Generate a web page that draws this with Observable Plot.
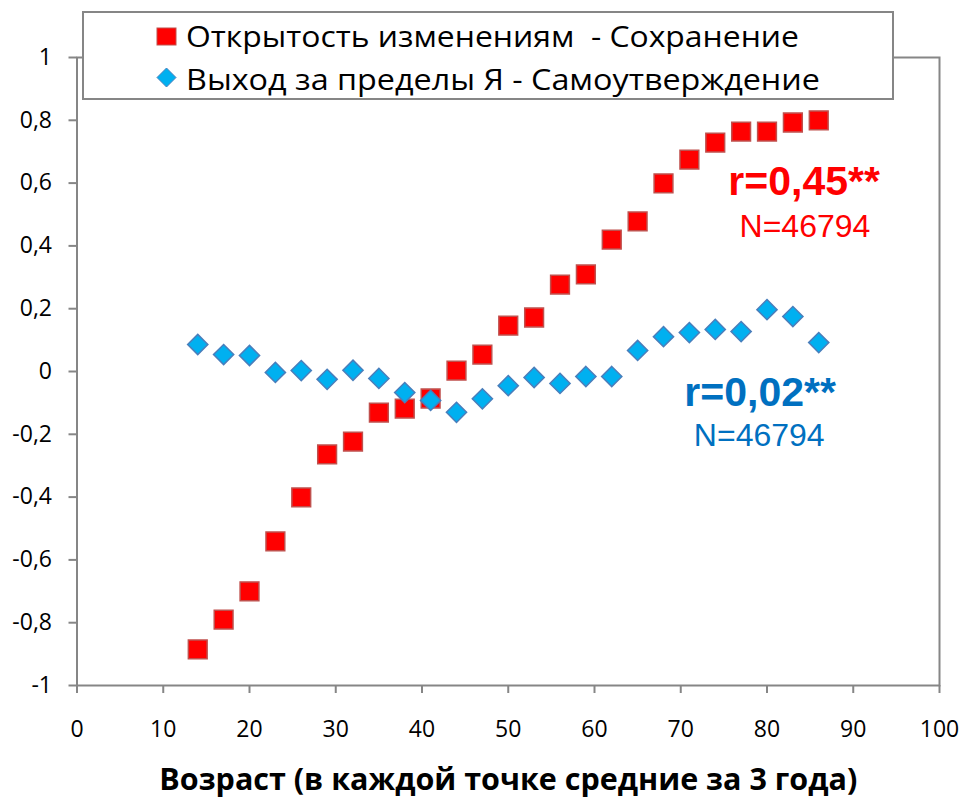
<!DOCTYPE html>
<html><head><meta charset="utf-8">
<script src="https://cdn.jsdelivr.net/npm/d3@7"></script>
<script src="https://cdn.jsdelivr.net/npm/@observablehq/plot@0.6"></script>
<style>
body{margin:0;background:#fff;}
#wrap{position:relative;width:963px;height:798px;}
#legend{position:absolute;left:82px;top:11px;}
#legend text{font-family:"Open Sans";font-size:28.5px;fill:#000;white-space:pre;}
</style>
</head><body>
<div id="wrap"></div>
<script>
// Data (age: mean over 3-year windows)
const ages = [14,17,20,23,26,29,32,35,38,41,44,47,50,53,56,59,62,65,68,71,74,77,80,83,86];
const openness = [-0.885,-0.79,-0.70,-0.541,-0.401,-0.264,-0.223,-0.131,-0.118,-0.086,0.003,0.054,0.146,0.172,0.277,0.309,0.42,0.478,0.599,0.675,0.729,0.764,0.764,0.793,0.80];
const transcend = [0.086,0.054,0.051,-0.003,0.003,-0.025,0.004,-0.022,-0.067,-0.092,-0.13,-0.087,-0.045,-0.019,-0.038,-0.016,-0.016,0.067,0.111,0.124,0.134,0.127,0.197,0.175,0.092];
const seriesNames = ["Открытость изменениям  - Сохранение","Выход за пределы Я - Самоутверждение"];
const xTicks = [0,10,20,30,40,50,60,70,80,90,100];
const yTicks = [-1,-0.8,-0.6,-0.4,-0.2,0,0.2,0.4,0.6,0.8,1];
const yTickLabels = ["-1","-0,8","-0,6","-0,4","-0,2","0","0,2","0,4","0,6","0,8","1"];
const annoText = ["r=0,45**","N=46794","r=0,02**","N=46794"];
const annoX = [84.3,84.4,79.2,79.1];
const annoY = [0.561,0.427,-0.111,-0.236];
const annoBold = [true,false,true,false];
const annoColor = ["#FF0000","#FF0000","#0070C0","#0070C0"];
const xTitle = "Возраст (в каждой точке средние за 3 года)";

const redData = ages.map((a,i)=>({age:a, v:openness[i]}));
const blueData = ages.map((a,i)=>({age:a, v:transcend[i]}));
const annos = annoText.map((t,i)=>({t, x:annoX[i], y:annoY[i], bold:annoBold[i], c:annoColor[i]}));

const chart = Plot.plot({
  width:963, height:798,
  marginLeft:76.5, marginRight:24, marginTop:57, marginBottom:113,
  x:{domain:[0,100]},
  y:{domain:[-1,1]},
  style:{fontFamily:"Open Sans", background:"white", overflow:"visible"},
  marks:[
    Plot.frame({stroke:"#868686", strokeWidth:2}),
    Plot.axisX({ticks:xTicks, tickSize:8, tickPadding:27, stroke:"#868686", strokeWidth:2, fill:"#000", fontSize:23, label:null, tickFormat:d=>String(d)}),
    Plot.axisY({ticks:yTicks, tickSize:8, tickPadding:17, stroke:"#868686", strokeWidth:2, fill:"#000", fontSize:23, label:null, tickFormat:(d,i)=>yTickLabels[i]}),
    Plot.dot(redData, {x:"age", y:"v", symbol:"square", r:10.6, fill:"#FF0000", stroke:"#C0504D", strokeWidth:1.5}),
    Plot.dot(blueData, {x:"age", y:"v", symbol:"diamond2", r:9.1, fill:"#00B0F0", stroke:"#4A7EBB", strokeWidth:1.5}),
    Plot.text(annos.filter(d=>d.bold), {x:"x", y:"y", text:"t", fill:"c", fontSize:41, fontWeight:"bold", fontFamily:"Liberation Sans", lineAnchor:"bottom", textAnchor:"middle"}),
    Plot.text(annos.filter(d=>!d.bold), {x:"x", y:"y", text:"t", fill:"c", fontSize:32, fontFamily:"Liberation Sans", lineAnchor:"bottom", textAnchor:"middle"}),
    Plot.text([xTitle], {frameAnchor:"bottom", dy:104, text:d=>d, fontSize:30.5, fontWeight:"bold", fill:"#000", lineAnchor:"bottom"})
  ]
});
document.getElementById("wrap").appendChild(chart);

// Legend box overlaying the top of the plot frame
const lg = d3.select("#wrap").append("svg").attr("id","legend").attr("width",814).attr("height",91);
lg.append("rect").attr("x",1).attr("y",1).attr("width",810).attr("height",87).attr("fill","#fff").attr("stroke","#868686").attr("stroke-width",2);
lg.append("rect").attr("x",75).attr("y",17).attr("width",19).attr("height",17).attr("fill","#FF0000").attr("stroke","#C0504D").attr("stroke-width",1);
lg.append("path").attr("d","M84.5,57 L94,66.5 L84.5,76 L75,66.5 Z").attr("fill","#00B0F0").attr("stroke","#4A7EBB").attr("stroke-width",1);
lg.append("text").attr("x",104).attr("y",36).attr("textLength",613).attr("lengthAdjust","spacingAndGlyphs").text(seriesNames[0]);
lg.append("text").attr("x",104).attr("y",79).attr("textLength",634).attr("lengthAdjust","spacingAndGlyphs").text(seriesNames[1]);
</script>
</body></html>
